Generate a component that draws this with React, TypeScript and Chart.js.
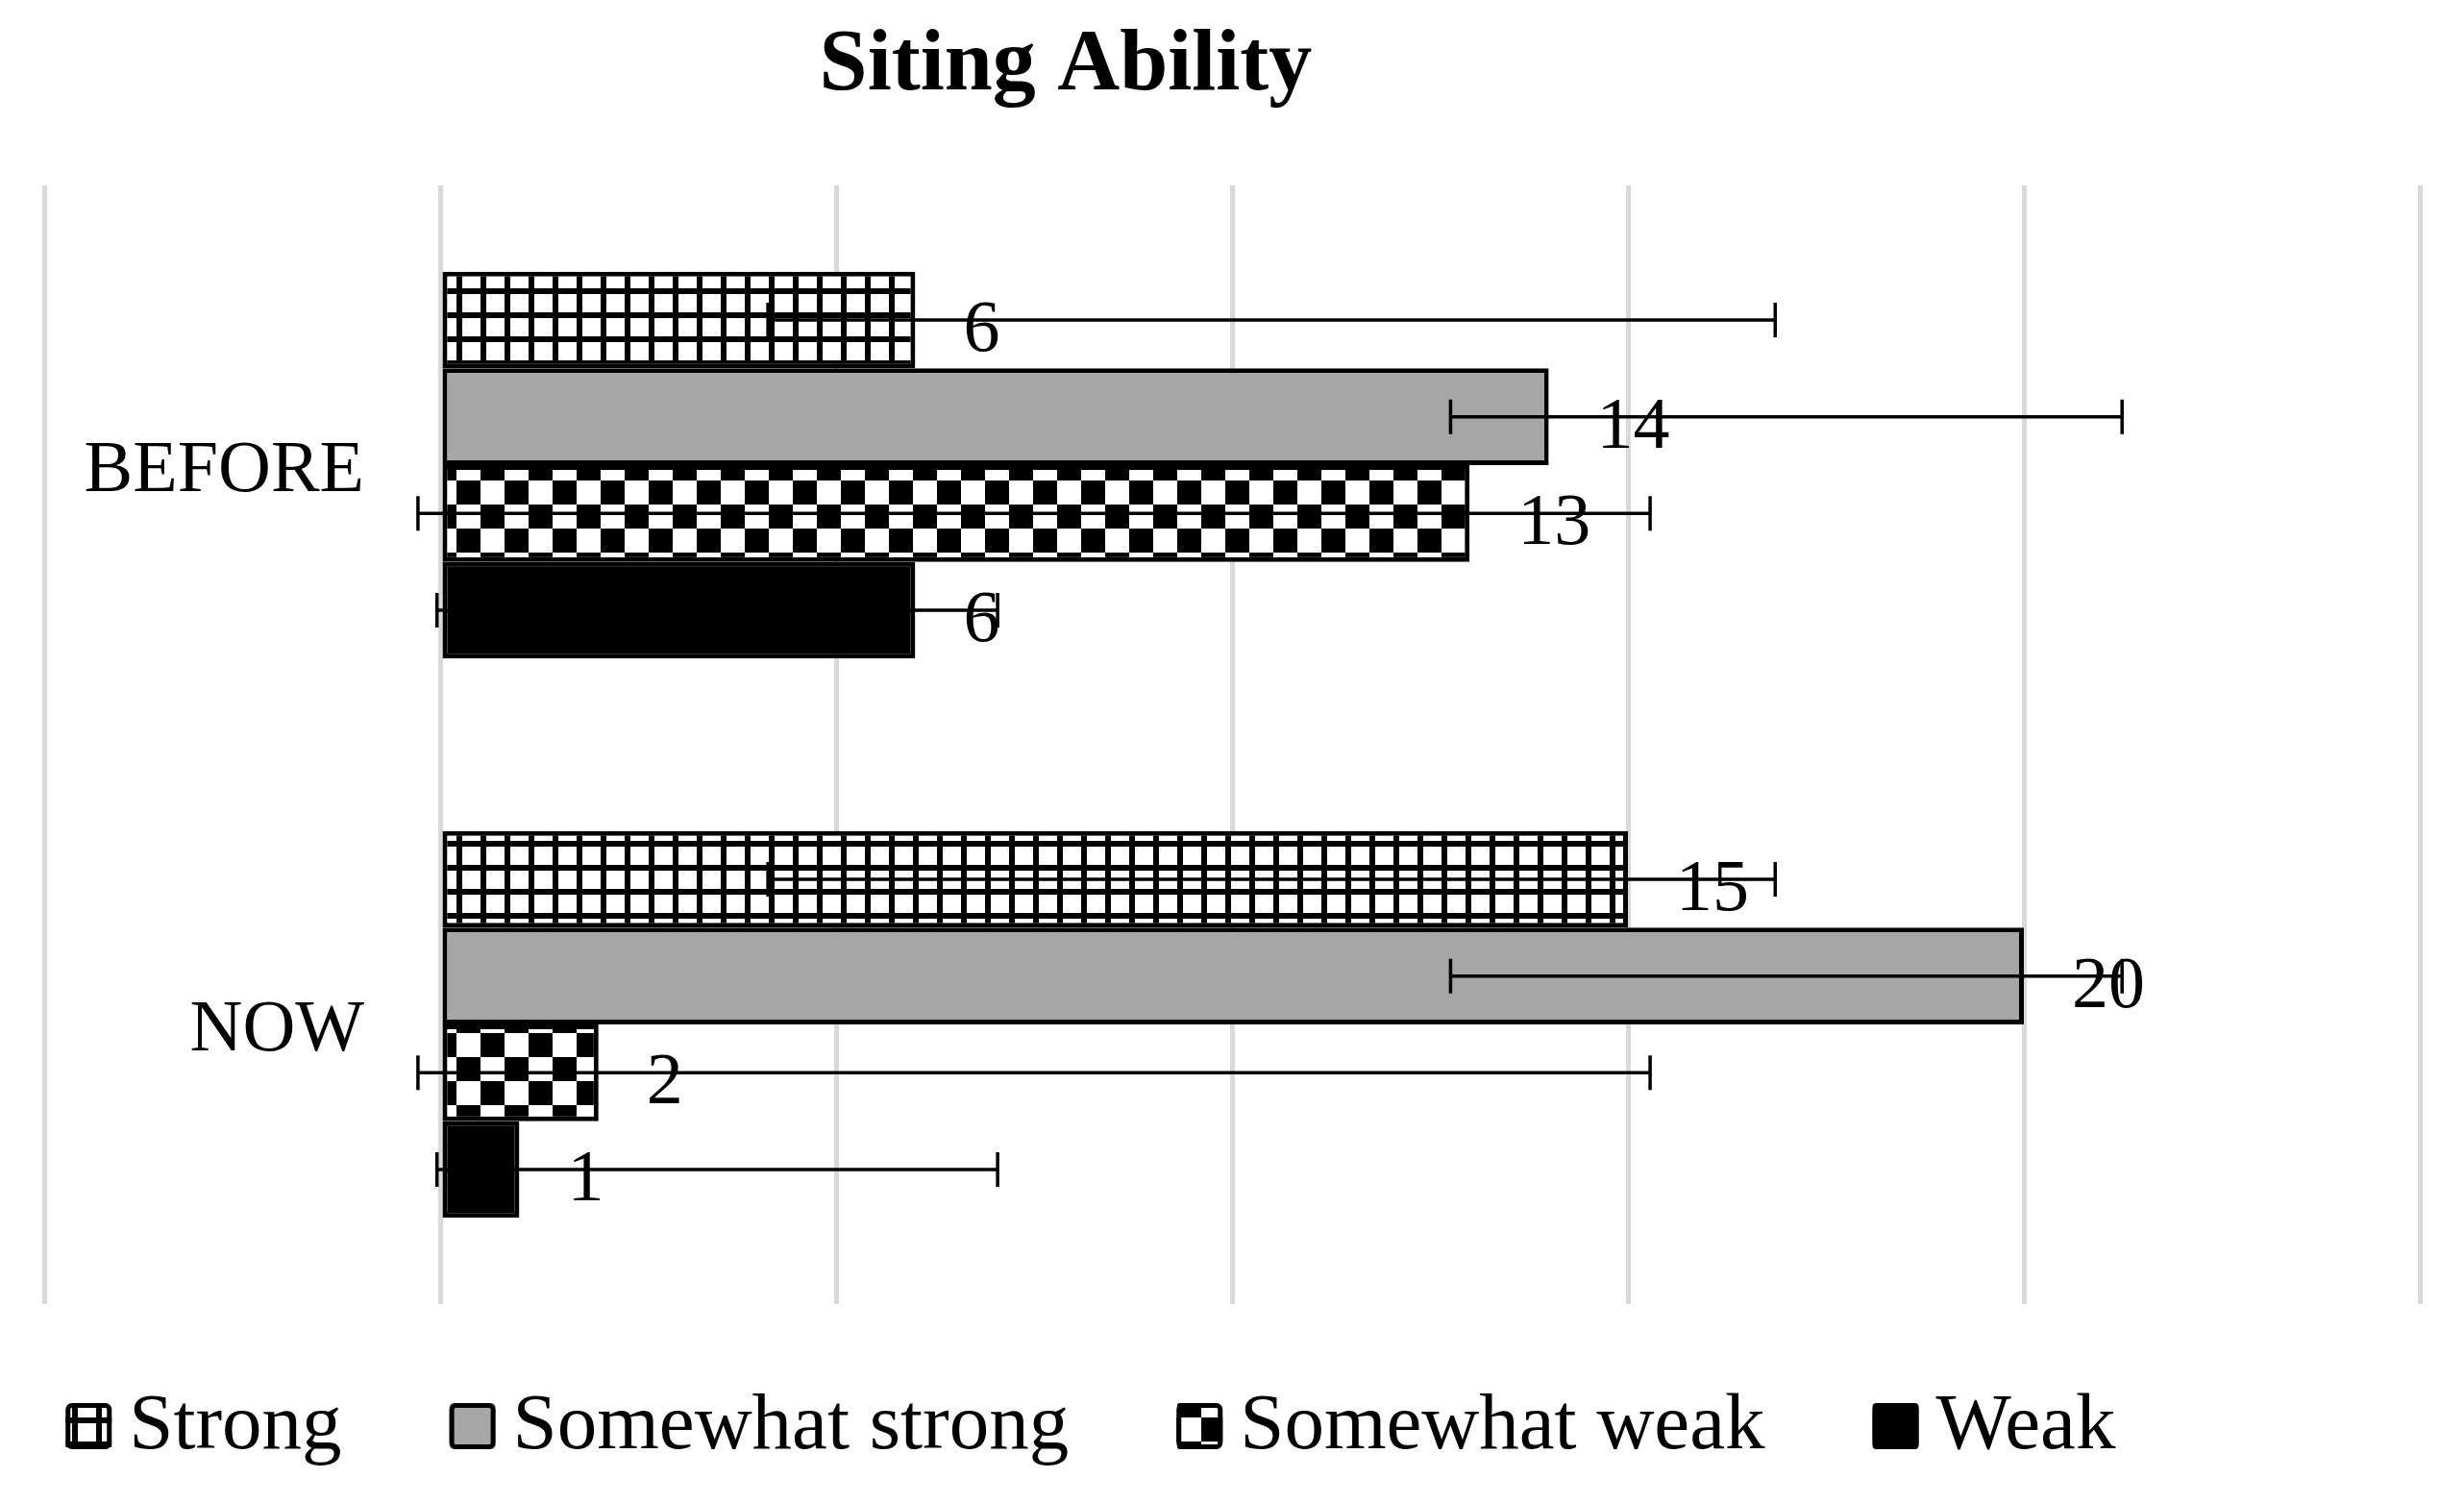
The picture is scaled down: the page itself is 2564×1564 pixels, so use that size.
import React, { useEffect, useRef } from "react";
import { Chart, registerables } from "chart.js";

Chart.register(...registerables);

// ---------- data ----------
const categories = ["BEFORE", "NOW"];
const seriesNames = ["Strong", "Somewhat strong", "Somewhat weak", "Weak"];
const strongValues = [6, 15];
const somewhatStrongValues = [14, 20];
const somewhatWeakValues = [13, 2];
const weakValues = [6, 1];
// error bar ranges [low, high] for each series
const strongErr = [4.14, 16.86];
const somewhatStrongErr = [12.76, 21.24];
const somewhatWeakErr = [-0.28, 15.28];
const weakErr = [-0.04, 7.04];
const xMin = -5;
const xMax = 25;
const xStep = 5;
const titleText = "Siting Ability";

const W = 2564;
const H = 1564;
const FONT = '"Liberation Serif", "Times New Roman", serif';

function makeGridPattern(): CanvasPattern | string {
  const c = document.createElement("canvas");
  c.width = 25;
  c.height = 25;
  const g = c.getContext("2d");
  if (!g) return "#fff";
  g.fillStyle = "#ffffff";
  g.fillRect(0, 0, 25, 25);
  g.fillStyle = "#000000";
  g.fillRect(0, 0, 25, 6);
  g.fillRect(0, 0, 6, 25);
  return g.createPattern(c, "repeat") as CanvasPattern;
}

function makeCheckerPattern(): CanvasPattern | string {
  const c = document.createElement("canvas");
  c.width = 50;
  c.height = 50;
  const g = c.getContext("2d");
  if (!g) return "#fff";
  g.fillStyle = "#ffffff";
  g.fillRect(0, 0, 50, 50);
  g.fillStyle = "#000000";
  g.fillRect(25, 0, 25, 25);
  g.fillRect(0, 25, 25, 25);
  return g.createPattern(c, "repeat") as CanvasPattern;
}

export default function App() {
  const ref = useRef<HTMLCanvasElement | null>(null);

  useEffect(() => {
    const canvas = ref.current;
    if (!canvas) return;
    const gridPat = makeGridPattern();
    const checkPat = makeCheckerPattern();
    const fills = [gridPat, "#a6a6a6", checkPat, "#000000"];
    const values = [strongValues, somewhatStrongValues, somewhatWeakValues, weakValues];
    const errs = [strongErr, somewhatStrongErr, somewhatWeakErr, weakErr];

    const overlay = {
      id: "overlay",
      afterDatasetsDraw(chart: any) {
        const ctx = chart.ctx as CanvasRenderingContext2D;
        const xs = chart.scales.x;
        const ys = chart.scales.y;
        ctx.save();
        // error bars
        ctx.strokeStyle = "#000";
        ctx.lineWidth = 3.5;
        chart.data.datasets.forEach((_ds: any, i: number) => {
          const meta = chart.getDatasetMeta(i);
          meta.data.forEach((el: any) => {
            const y = el.y;
            const x1 = xs.getPixelForValue(errs[i][0]);
            const x2 = xs.getPixelForValue(errs[i][1]);
            ctx.beginPath();
            ctx.moveTo(x1, y);
            ctx.lineTo(x2, y);
            ctx.moveTo(x1, y - 18);
            ctx.lineTo(x1, y + 18);
            ctx.moveTo(x2, y - 18);
            ctx.lineTo(x2, y + 18);
            ctx.stroke();
          });
        });
        // data labels
        ctx.fillStyle = "#000";
        ctx.font = `76px ${FONT}`;
        ctx.textAlign = "left";
        ctx.textBaseline = "alphabetic";
        chart.data.datasets.forEach((ds: any, i: number) => {
          const meta = chart.getDatasetMeta(i);
          meta.data.forEach((el: any, j: number) => {
            ctx.fillText(String(ds.data[j]), el.x + 50, el.y + 32);
          });
        });
        // category labels
        const x0 = xs.getPixelForValue(0);
        ctx.textAlign = "right";
        categories.forEach((c, j) => {
          const y = ys.getPixelForValue(j);
          ctx.fillText(c, x0 - 79, y + 27);
        });
        // title
        ctx.font = `bold 90px ${FONT}`;
        ctx.textAlign = "center";
        ctx.fillText(titleText, chart.width * 0.4325, 93);
        // legend
        ctx.font = `83px ${FONT}`;
        ctx.textAlign = "left";
        const box = 48;
        const gapBT = 18;
        const gapItems = 112;
        const widths = seriesNames.map((s) => ctx.measureText(s).width);
        let total = 0;
        widths.forEach((w, k) => {
          total += box + gapBT + w + (k < widths.length - 1 ? gapItems : 0);
        });
        let lx = chart.width * 0.4426 - total / 2;
        const boxTop = 1460;
        const baseY = 1507;
        seriesNames.forEach((s, k) => {
          ctx.fillStyle = fills[k] as any;
          ctx.beginPath();
          (ctx as any).roundRect ? (ctx as any).roundRect(lx, boxTop, box, box, 4) : ctx.rect(lx, boxTop, box, box);
          ctx.fill();
          ctx.lineWidth = 5;
          ctx.strokeStyle = "#000";
          ctx.beginPath();
          (ctx as any).roundRect ? (ctx as any).roundRect(lx + 2.5, boxTop + 2.5, box - 5, box - 5, 4) : ctx.rect(lx + 2.5, boxTop + 2.5, box - 5, box - 5);
          ctx.stroke();
          ctx.fillStyle = "#000";
          ctx.fillText(s, lx + box + gapBT, baseY);
          lx += box + gapBT + widths[k] + gapItems;
        });
        ctx.restore();
      },
    };

    const chart = new Chart(canvas, {
      type: "bar",
      data: {
        labels: categories,
        datasets: seriesNames.map((name, i) => ({
          label: name,
          data: values[i],
          backgroundColor: fills[i] as any,
          borderColor: "#000000",
          borderWidth: 5,
          borderSkipped: false,
          barPercentage: 1,
          categoryPercentage: 0.692,
        })),
      },
      options: {
        indexAxis: "y",
        responsive: false,
        animation: false,
        devicePixelRatio: 1,
        layout: { padding: { left: 46, right: 46, top: 193, bottom: 207 } },
        plugins: {
          legend: { display: false },
          title: { display: false },
          tooltip: { enabled: false },
        },
        scales: {
          x: {
            type: "linear",
            min: xMin,
            max: xMax,
            ticks: { display: false, stepSize: xStep },
            grid: { color: "#d9d9d9", lineWidth: 5, drawTicks: false },
            border: { display: false },
          },
          y: {
            type: "category",
            display: false,
          },
        },
      },
      plugins: [overlay],
    });
    return () => chart.destroy();
  }, []);

  return (
    <div style={{ position: "fixed", left: 0, top: 0, width: W, height: H, background: "#fff" }}>
      <canvas ref={ref} width={W} height={H} style={{ width: W, height: H, display: "block" }} />
    </div>
  );
}
